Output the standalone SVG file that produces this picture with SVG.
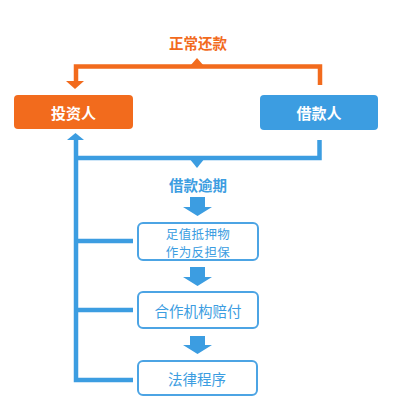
<svg xmlns="http://www.w3.org/2000/svg" width="407" height="403" viewBox="0 0 407 403">
<style>
text{font-family:"Noto Sans CJK SC","Noto Sans",sans-serif;text-anchor:middle;dominant-baseline:central}
.lbl{font-size:14.5px;font-weight:bold}
.org{fill:#F26B1D}
.blu{fill:#3C9DE1}
.box{fill:#fff;stroke:#4CA4E4;stroke-width:2}
.bt{font-size:14.5px;fill:#3C9DE1}
.bt2{font-size:12.5px;fill:#3C9DE1;letter-spacing:0.4px}
.wt{font-size:15px;font-weight:bold;fill:#fff}
.ol{stroke:#F26B1D;stroke-width:4.5;fill:none}
.bl{stroke:#3C9DE1;stroke-width:4.5;fill:none}
</style>
<rect width="407" height="403" fill="#fff"/>
<g id="connectors">
  <path class="ol" d="M320,85 V66.5 H76 V82"/>
  <polygon class="org" points="190,66 197,58 204,66"/>
  <polygon class="org" points="66,81 84,81 75,89"/>
  <path class="bl" d="M319.5,140 V158 H76 M76,139 V380 H133 M76,241 H133 M76,310 H133"/>
  <polygon class="blu" points="189,158 205,158 197,168"/>
  <polygon class="blu" points="67,140 84,140 75.5,133"/>
  <polygon class="blu" points="190,197 205,197 205,207 212,207 197.5,216 183,207 190,207"/>
  <polygon class="blu" points="190,267 205,267 205,277 212,277 197.5,286 183,277 190,277"/>
  <polygon class="blu" points="190,336 205,336 205,345 212,345 197.5,354 183,345 190,345"/>
  <text class="lbl org" x="198" y="42">正常还款</text>
  <text class="lbl blu" x="198" y="184">借款逾期</text>
</g>
<g id="investor">
  <rect x="14" y="95" width="119" height="34" rx="4" class="org"/>
  <text class="wt" x="73.5" y="112">投资人</text>
</g>
<g id="borrower">
  <rect x="260" y="95" width="118" height="35" rx="4" class="blu"/>
  <text class="wt" x="319" y="112.5">借款人</text>
</g>
<g id="collateral">
  <rect x="138" y="223" width="120" height="37" rx="5" class="box"/>
  <text class="bt2" x="198" y="232.5"><tspan x="198" y="232.5">足值抵押物</tspan><tspan x="198" y="251">作为反担保</tspan></text>
</g>
<g id="partner">
  <rect x="138" y="292" width="120" height="36" rx="5" class="box"/>
  <text class="bt" x="198" y="310">合作机构赔付</text>
</g>
<g id="legal">
  <rect x="138" y="361" width="119" height="34" rx="5" class="box"/>
  <text class="bt" x="197" y="378">法律程序</text>
</g>
</svg>
